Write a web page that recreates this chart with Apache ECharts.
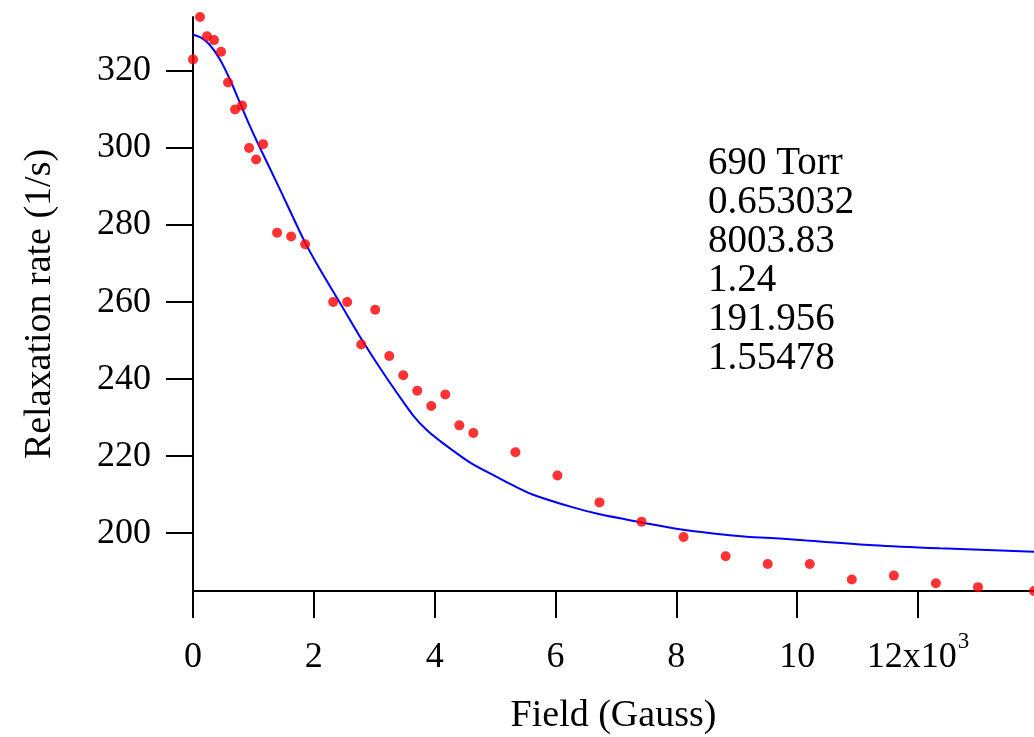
<!DOCTYPE html>
<html>
<head>
<meta charset="utf-8">
<script src="https://cdn.jsdelivr.net/npm/echarts@6/dist/echarts.min.js"></script>
<style>
  html, body { margin: 0; padding: 0; background: #fff; }
  #chart { width: 1034px; height: 737px; }
</style>
</head>
<body>
<div id="chart"></div>
<script>
// Measured relaxation rate versus magnetic field
const fieldGauss = [0, 116, 232, 348, 464, 580, 696, 812, 928, 1044, 1160,
  1392, 1624, 1856, 2320, 2552, 2784, 3016, 3248, 3480, 3712, 3944, 4176, 4408, 4640,
  5336, 6032, 6728, 7424, 8120, 8816, 9512, 10208, 10904, 11600, 12296, 12992, 13920];
const rate = [323, 334, 329, 328, 325, 317, 310, 311, 300, 297, 301,
  278, 277, 275, 260, 260, 249, 258, 246, 241, 237, 233, 236, 228, 226,
  221, 215, 208, 203, 199, 194, 192, 192, 188, 189, 187, 186, 185];

// Fitted curve
const fitField = [0, 139, 276, 442, 608, 773, 939, 1104, 1435, 1854, 2098, 2429, 2788,
  3090, 3368, 3642, 3860, 4084, 4581, 5078, 5298, 5629, 6291, 6733, 7429, 8058, 8609, 9162,
  9713, 10156, 11260, 12360, 13920];
const fitRate = [329.4, 328.6, 326.8, 323.1, 317.9, 311.9, 305.8, 300.2, 289.4, 275.5,
  268.6, 259.9, 250.4, 243.0, 236.6, 230.6, 226.9, 224.0, 218.4, 214.2, 212.4, 210.0, 206.7,
  204.9, 202.8, 201.0, 199.9, 199.1, 198.6, 198.1, 196.9, 196.1, 195.2];

// Axis ticks
const xTicks = [0, 2000, 4000, 6000, 8000, 10000, 12000];
const yTicks = [200, 220, 240, 260, 280, 300, 320];

// Fit results annotation
const fitNotes = ['690 Torr', '0.653032', '8003.83', '1.24', '191.956', '1.55478'];

const FONT = '"Liberation Serif", "Times New Roman", serif';

const chart = echarts.init(document.getElementById('chart'), null, { renderer: 'canvas' });

const axisLineStyle = { color: '#000', width: 2 };

chart.setOption({
  backgroundColor: '#fff',
  animation: false,
  grid: { left: 193, right: 0, top: 17, bottom: 146, containLabel: false, outerBoundsMode: 'none' },
  xAxis: {
    type: 'value',
    min: 0,
    max: 13920,
    name: 'Field (Gauss)',
    nameLocation: 'middle',
    nameGap: 106,
    nameTextStyle: { fontFamily: FONT, fontSize: 38, color: '#000' },
    axisLine: { show: true, onZero: false, lineStyle: axisLineStyle },
    axisTick: { show: true, length: 27, lineStyle: axisLineStyle, customValues: xTicks },
    splitLine: { show: false },
    axisLabel: {
      customValues: xTicks,
      margin: 37,
      fontFamily: FONT,
      fontSize: 36,
      color: '#000',
      formatter: function (v) {
        if (v === 12000) return '{n|12x10}{s|3}';
        return '{n|' + (v / 1000) + '}';
      },
      rich: {
        n: { fontFamily: FONT, fontSize: 36, color: '#000', lineHeight: 60 },
        s: { fontFamily: FONT, fontSize: 23, color: '#000', lineHeight: 23, verticalAlign: 'top', padding: [2, 0, 35, 1] }
      }
    }
  },
  yAxis: {
    type: 'value',
    min: 185,
    max: 334,
    name: 'Relaxation rate (1/s)',
    nameLocation: 'middle',
    nameGap: 134,
    nameTextStyle: { fontFamily: FONT, fontSize: 38, color: '#000' },
    axisLine: { show: true, onZero: false, lineStyle: axisLineStyle },
    axisTick: { show: true, length: 27, lineStyle: axisLineStyle, customValues: yTicks },
    splitLine: { show: false },
    axisLabel: {
      customValues: yTicks,
      margin: 42,
      fontFamily: FONT,
      fontSize: 36,
      color: '#000'
    }
  },
  graphic: fitNotes.map(function (t, i) {
    return {
      type: 'text',
      left: 708,
      top: 144 + i * 39,
      style: { text: t, font: '39px ' + FONT, fill: '#000' }
    };
  }),
  series: [
    {
      type: 'line',
      data: fitField.map(function (x, i) { return [x, fitRate[i]]; }),
      showSymbol: false,
      smooth: 0.3,
      lineStyle: { color: '#0000ff', width: 2 },
      clip: true,
      z: 2
    },
    {
      type: 'scatter',
      data: fieldGauss.map(function (x, i) { return [x, rate[i]]; }),
      symbol: 'circle',
      symbolSize: 10,
      itemStyle: { color: '#ff0000' },
      clip: false,
      z: 3
    }
  ]
});
</script>
</body>
</html>
